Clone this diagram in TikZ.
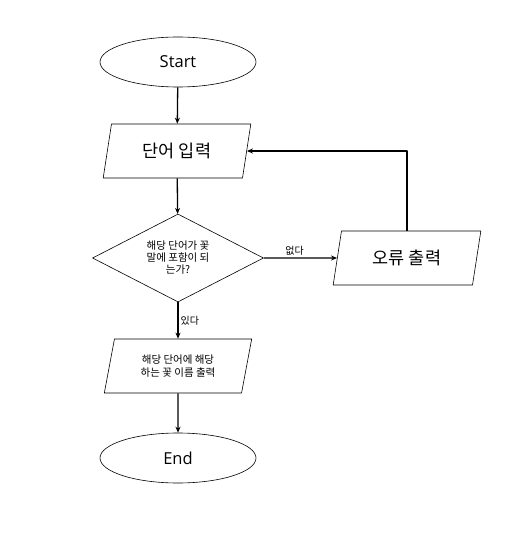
\documentclass[tikz,border=0pt]{standalone}
\usepackage{fontspec}
\setmainfont{Open Sans}
\newfontfamily\kor{Noto Sans CJK KR}
\usetikzlibrary{shapes.geometric,arrows.meta}
\tikzset{
  term/.style={draw, ellipse, line width=0.6pt, minimum width=156pt, minimum height=50pt, font=\fontsize{16.5}{18}\selectfont},
  io/.style={draw, line width=0.6pt, trapezium, trapezium left angle=76, trapezium right angle=104, trapezium stretches=true, minimum width=148pt, minimum height=54pt, inner sep=1pt, align=center},
  decide/.style={draw, line width=0.6pt, diamond, aspect=2, minimum width=171pt, minimum height=88pt, inner sep=0pt, align=center, font=\kor\fontsize{10.5}{12}\selectfont},
  flow/.style={line width=1.3pt, -{Stealth[length=6pt,width=5pt]}},
  lbl/.style={font=\kor\fontsize{10}{11}\selectfont, inner sep=2pt}
}
\begin{document}
\begin{tikzpicture}[x=1pt, y=-1pt, line join=round]
  \useasboundingbox (0,0) rectangle (515,537);
  \node[term] (start) at (178,62) {Start};
  \node[io, font=\kor\fontsize{17.5}{20}\selectfont] (input) at (177,151) {단어 입력};
  \node[decide] (check) at (178,258) {해당 단어가 꽃\\말에 포함이 되\\는가?};
  \node[io, font=\kor\fontsize{17.5}{20}\selectfont] (err) at (407,258) {오류 출력};
  \node[io, font=\kor\fontsize{10.5}{13}\selectfont] (result) at (178,366) {해당 단어에 해당\\하는 꽃 이름 출력};
  \node[term] (end) at (178,458) {End};

  \draw[flow] (start) -- (input);
  \draw[flow] (input) -- (check);
  \draw[flow] (check) -- node[lbl, above, pos=0.42] {없다} (err);
  \draw[flow] (check) -- node[lbl, right, midway] {있다} (result);
  \draw[flow] (err.north) |- (input.east);
  \draw[flow] (result) -- (end);
\end{tikzpicture}
\end{document}
